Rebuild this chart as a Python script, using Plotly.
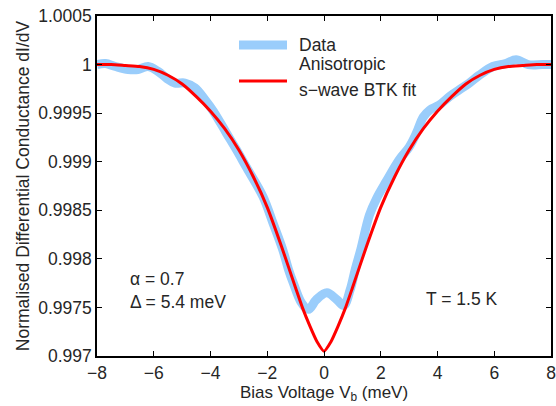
import plotly.graph_objects as go

# Measured data (bias voltage in meV, normalised conductance)
data_v = [-8.0, -7.7, -7.35, -6.9, -6.55, -6.2, -5.85, -5.55, -5.25, -4.9, -4.55, -4.2,
          -3.9, -3.45, -3.1, -2.75, -2.15, -1.8, -1.45, -1.25, -1.08, -0.8, -0.55, -0.27,
          0.1, 0.45, 0.7, 0.92, 1.1, 1.3, 1.6, 1.85, 2.2, 2.65, 3.0, 3.25, 3.5, 3.72,
          4.05, 4.42, 4.77, 5.12, 5.47, 5.95, 6.4, 6.77, 7.2, 7.7, 8.0]
data_g = [1.00000, 1.00001, 0.99998, 0.99995, 0.99995, 0.99998, 0.99993, 0.99986, 0.99981,
          0.99981, 0.99976, 0.99964, 0.99952, 0.99930, 0.99913, 0.99895, 0.99864, 0.99837,
          0.99809, 0.99789, 0.99775, 0.99755, 0.99748, 0.99758, 0.99765, 0.99758, 0.99752,
          0.99768, 0.99789, 0.99810, 0.99845, 0.99862, 0.99880, 0.99902, 0.99915, 0.99929,
          0.99946, 0.99953, 0.99958, 0.99967, 0.99974, 0.99981, 0.99989, 0.99998, 1.00001,
          1.00005, 1.00000, 1.00000, 1.00000]

# Anisotropic s-wave BTK fit
fit_v = [-8, -7.5, -7, -6.5, -6, -5.5, -5, -4.5, -4, -3.5, -3, -2.5, -2, -1.5, -1, -0.75,
         -0.5, -0.25, 0, 0.25, 0.5, 0.75, 1, 1.5, 2, 2.5, 3, 3.5, 4, 4.5, 5, 5.5, 6, 6.5,
         7, 7.5, 8]
fit_g = [1.00000, 1.00000, 0.99999, 0.99998, 0.99995, 0.99989, 0.99980, 0.99967, 0.99952,
         0.99934, 0.99912, 0.99885, 0.99853, 0.99813, 0.99770, 0.99749, 0.99731, 0.99715,
         0.99705, 0.99715, 0.99731, 0.99749, 0.99770, 0.99813, 0.99853, 0.99885, 0.99912,
         0.99934, 0.99952, 0.99967, 0.99980, 0.99989, 0.99995, 0.99998, 0.99999, 1.00000,
         1.00000]

x_ticks = [-8, -6, -4, -2, 0, 2, 4, 6, 8]
x_ticktext = ["\u22128", "\u22126", "\u22124", "\u22122", "0", "2", "4", "6", "8"]
y_ticks = [0.997, 0.9975, 0.998, 0.9985, 0.999, 0.9995, 1.0, 1.0005]
y_ticktext = ["0.997", "0.9975", "0.998", "0.9985", "0.999", "0.9995", "1", "1.0005"]

FONT = "Liberation Sans, Arial, Helvetica, sans-serif"
TXT = "#262626"
BLUE = "#9ACDFB"
RED = "#FF0000"
FS = 17.5

fig = go.Figure()
fig.add_trace(go.Scatter(x=data_v, y=data_g, mode="lines", name="Data",
                         line=dict(color=BLUE, width=9, shape="spline", smoothing=1.0),
                         showlegend=False))
fig.add_trace(go.Scatter(x=fit_v, y=fit_g, mode="lines", name="Anisotropic s-wave BTK fit",
                         line=dict(color=RED, width=3, shape="spline", smoothing=0.5),
                         showlegend=False))

axis_common = dict(showgrid=False, zeroline=False, showline=True, linecolor="black",
                   linewidth=1.5, mirror="ticks", ticks="inside", ticklen=5, tickwidth=1,
                   tickcolor="black", automargin=False,
                   tickfont=dict(family=FONT, size=17.5, color=TXT))

fig.update_xaxes(range=[-8, 8], tickvals=x_ticks, ticktext=x_ticktext,
                 title=dict(text="Bias Voltage V<sub>b</sub> (meV)",
                            font=dict(family=FONT, size=17, color=TXT), standoff=0),
                 **axis_common)
fig.update_yaxes(range=[0.997, 1.0005], tickvals=y_ticks, ticktext=y_ticktext,
                 title=dict(text="Normalised Differential Conductance dI/dV",
                            font=dict(family=FONT, size=17.5, color=TXT), standoff=4),
                 **axis_common)

# Manual legend
shapes = [
    dict(type="line", xref="paper", yref="paper", x0=0.3128, x1=0.4185, y0=0.9147, y1=0.9147,
         line=dict(color=BLUE, width=9)),
    dict(type="line", xref="paper", yref="paper", x0=0.3128, x1=0.4185, y0=0.8088, y1=0.8088,
         line=dict(color=RED, width=3)),
]
annotations = [
    dict(text="Data", x=0.4405, y=0.9147),
    dict(text="Anisotropic", x=0.4405, y=0.8588),
    dict(text="s\u2212wave BTK fit", x=0.4405, y=0.7824),
    dict(text="\u03b1 = 0.7", x=0.0683, y=0.2265),
    dict(text="\u0394 = 5.4 meV", x=0.0683, y=0.1588),
    dict(text="T = 1.5 K", x=0.7203, y=0.1676),
]
for a in annotations:
    a.update(xref="paper", yref="paper", xanchor="left", yanchor="middle", showarrow=False,
             font=dict(family=FONT, size=FS, color=TXT))

fig.update_layout(width=556, height=406, margin=dict(l=97, r=5, t=16, b=50),
                  plot_bgcolor="white", paper_bgcolor="white",
                  shapes=shapes, annotations=annotations, showlegend=False)

fig.write_html("out.html", config={"displayModeBar": False},
               post_script="document.body.style.margin='0';document.body.style.overflow='hidden';")
